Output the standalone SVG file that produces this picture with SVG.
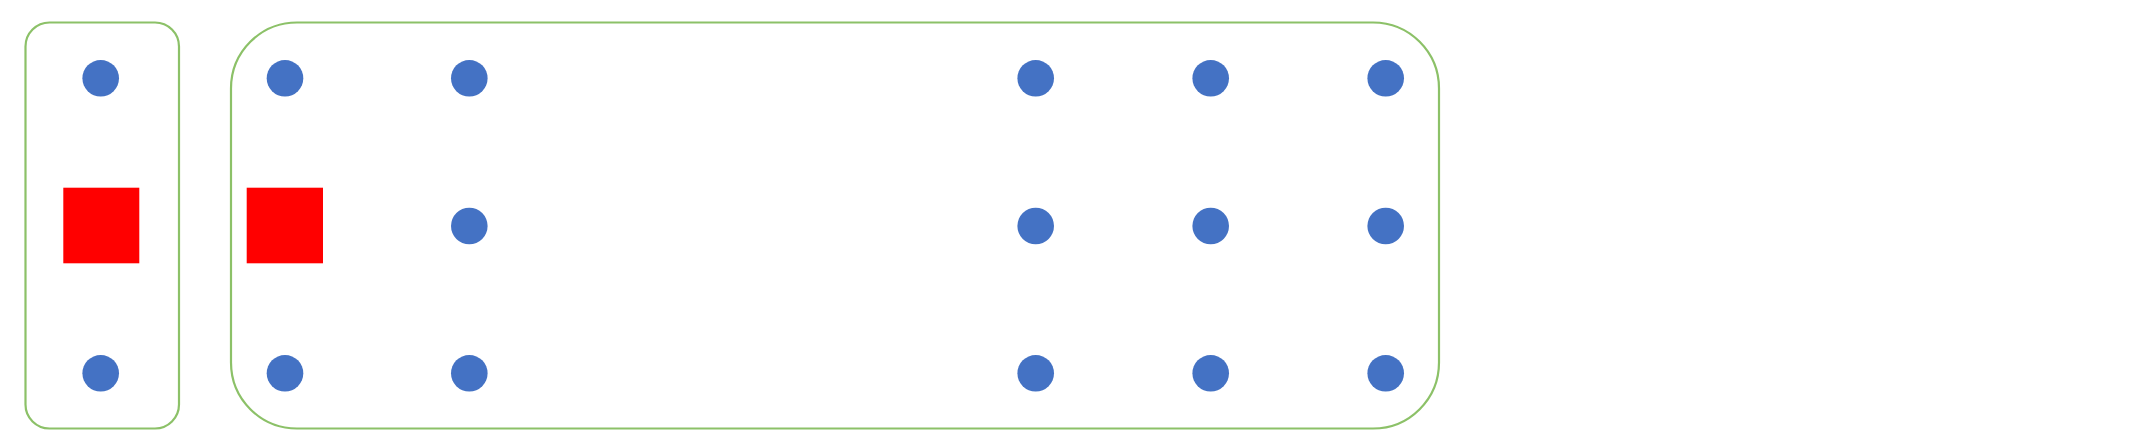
<svg xmlns="http://www.w3.org/2000/svg" width="2150" height="445" viewBox="0 0 2150 445">
<style>
.box{fill:#FFFFFF;stroke:#8CC168;stroke-width:2.2}
.dot{fill:#4472C4}
.sq{fill:#FF0000}
</style>
<rect width="2150" height="445" fill="#FFFFFF"/>
<g id="group-left">
<rect class="box" x="25.5" y="22.5" width="153.5" height="406" rx="24" ry="24"/>
</g>
<g id="group-right">
<rect class="box" x="231" y="22.5" width="1208" height="406" rx="66" ry="66"/>
</g>
<g id="n-l1"><circle class="dot" cx="100.7" cy="78.3" r="18.3"/></g>
<g id="n-l2"><rect class="sq" x="63.3" y="187.7" width="76" height="75.6"/></g>
<g id="n-l3"><circle class="dot" cx="100.7" cy="373.3" r="18.3"/></g>
<g id="n-a1"><circle class="dot" cx="285" cy="78.3" r="18.3"/></g>
<g id="n-a2"><rect class="sq" x="246.7" y="187.7" width="76.3" height="75.6"/></g>
<g id="n-a3"><circle class="dot" cx="285" cy="373.3" r="18.3"/></g>
<g id="n-b1"><circle class="dot" cx="469.3" cy="78.3" r="18.3"/></g>
<g id="n-b2"><circle class="dot" cx="469.3" cy="226" r="18.3"/></g>
<g id="n-b3"><circle class="dot" cx="469.3" cy="373.3" r="18.3"/></g>
<g id="n-c1"><circle class="dot" cx="1035.7" cy="78.3" r="18.3"/></g>
<g id="n-c2"><circle class="dot" cx="1035.7" cy="226" r="18.3"/></g>
<g id="n-c3"><circle class="dot" cx="1035.7" cy="373.3" r="18.3"/></g>
<g id="n-d1"><circle class="dot" cx="1210.7" cy="78.3" r="18.3"/></g>
<g id="n-d2"><circle class="dot" cx="1210.7" cy="226" r="18.3"/></g>
<g id="n-d3"><circle class="dot" cx="1210.7" cy="373.3" r="18.3"/></g>
<g id="n-e1"><circle class="dot" cx="1385.7" cy="78.3" r="18.3"/></g>
<g id="n-e2"><circle class="dot" cx="1385.7" cy="226" r="18.3"/></g>
<g id="n-e3"><circle class="dot" cx="1385.7" cy="373.3" r="18.3"/></g>
<g id="connectors"></g>
</svg>
